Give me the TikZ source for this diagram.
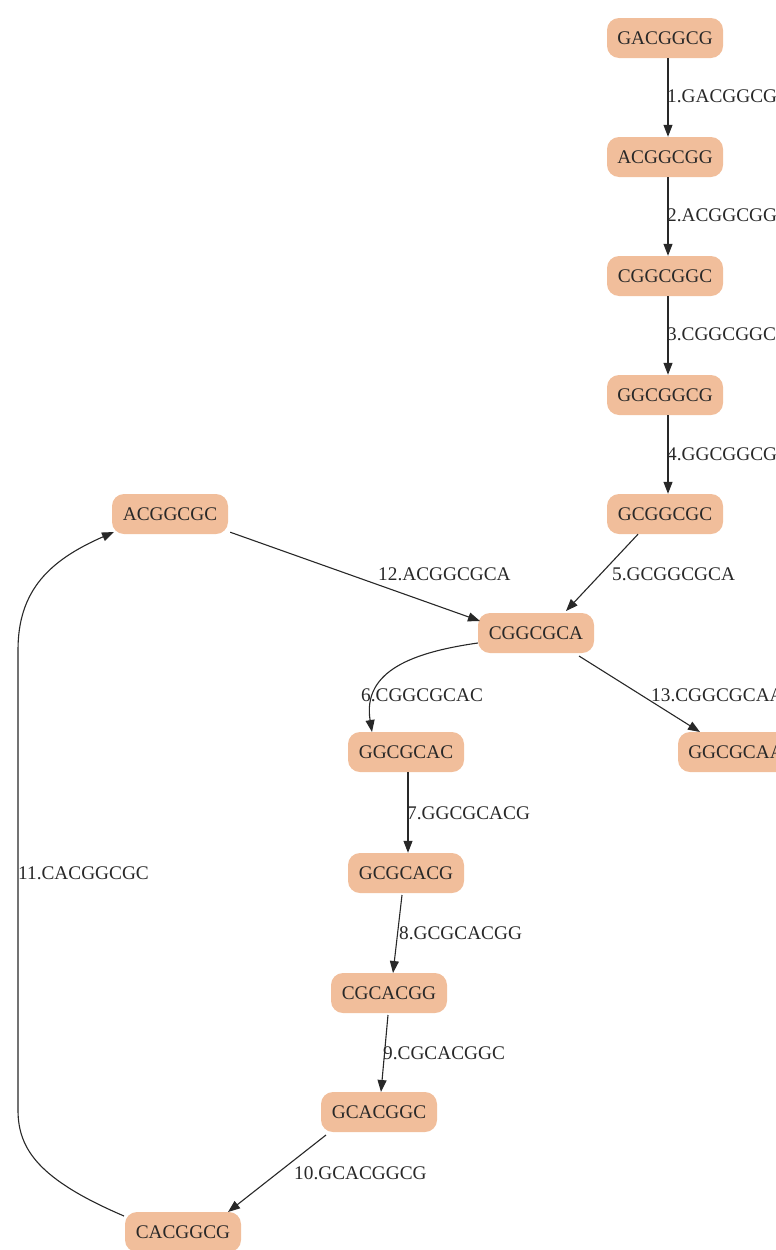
\documentclass[tikz,border=0pt]{standalone}
\usepackage{fontspec}
\setmainfont{Liberation Serif}
\usetikzlibrary{arrows.meta}
\definecolor{kmer}{RGB}{241,190,155}
\definecolor{inkgray}{RGB}{40,40,40}
\tikzset{
  kbox/.style={fill=kmer, draw=none, rounded corners=12pt, minimum width=116pt,
    minimum height=40pt, inner sep=0pt, text=inkgray, font=\fontsize{19.3}{20}\selectfont},
  edge/.style={draw=inkgray, line width=1.1pt, -{Triangle[length=12pt,width=9pt]}},
  elabel/.style={anchor=west, inner sep=0pt, text=inkgray, font=\fontsize{19.3}{20}\selectfont}
}
\begin{document}
\begin{tikzpicture}[x=1pt,y=-1pt]
\useasboundingbox (0,0) rectangle (776,1250);
% vertices of the de Bruijn path
\node[kbox] (n1)  at (665,38)   {GACGGCG};
\node[kbox] (n2)  at (665,157)  {ACGGCGG};
\node[kbox] (n3)  at (665,276)  {CGGCGGC};
\node[kbox] (n4)  at (665,395)  {GGCGGCG};
\node[kbox] (n5)  at (665,514)  {GCGGCGC};
\node[kbox] (n12) at (170,514)  {ACGGCGC};
\node[kbox] (n6)  at (536,633)  {CGGCGCA};
\node[kbox] (n7)  at (406,752)  {GGCGCAC};
\node[kbox] (n13) at (736,752)  {GGCGCAA};
\node[kbox] (n8)  at (406,873)  {GCGCACG};
\node[kbox] (n9)  at (389,993)  {CGCACGG};
\node[kbox] (n10) at (379,1112) {GCACGGC};
\node[kbox] (n11) at (183,1232) {CACGGCG};
% edges
\draw[edge] (n1.south -| 668,0) -- (n2.north -| 668,0);
\draw[edge] (n2.south -| 668,0) -- (n3.north -| 668,0);
\draw[edge] (n3.south -| 668,0) -- (n4.north -| 668,0);
\draw[edge] (n4.south -| 668,0) -- (n5.north -| 668,0);
\draw[edge] (n5.south -| 638,0) -- (566,611);
\draw[edge] (n12.south east) ++(2,-2) -- (480,621);
\draw[edge] (n6.west) ++(0,10) .. controls (415,652) and (362,670) .. (372,732);
\draw[edge] (579,656) -- (700,732);
\draw[edge] (n7.south -| 408,0) -- (n8.north -| 408,0);
\draw[edge] (402,895) -- (393,973);
\draw[edge] (388,1015) -- (381,1092);
\draw[edge] (326,1135) -- (228,1212);
\draw[edge] (124,1216) .. controls (40,1180) and (18,1150) .. (18,1110)
  -- (18,650) .. controls (18,590) and (50,560) .. (114,532);
% edge labels
\node[elabel] (l1)  at (667,96)   {1.GACGGCG};
\node[elabel] (l2)  at (667,215)  {2.ACGGCGG};
\node[elabel] (l3)  at (667,334)  {3.CGGCGGC};
\node[elabel] (l4)  at (667,454)  {4.GGCGGCG};
\node[elabel] (l5)  at (612,574)  {5.GCGGCGCA};
\node[elabel] (l12) at (378,574)  {12.ACGGCGCA};
\node[elabel] (l6)  at (361,695)  {6.CGGCGCAC};
\node[elabel] (l13) at (651,695)  {13.CGGCGCAA};
\node[elabel] (l7)  at (407,813)  {7.GGCGCACG};
\node[elabel] (l11) at (18,873)   {11.CACGGCGC};
\node[elabel] (l8)  at (399,933)  {8.GCGCACGG};
\node[elabel] (l9)  at (383,1053) {9.CGCACGGC};
\node[elabel] (l10) at (294,1173) {10.GCACGGCG};
\end{tikzpicture}
\end{document}
